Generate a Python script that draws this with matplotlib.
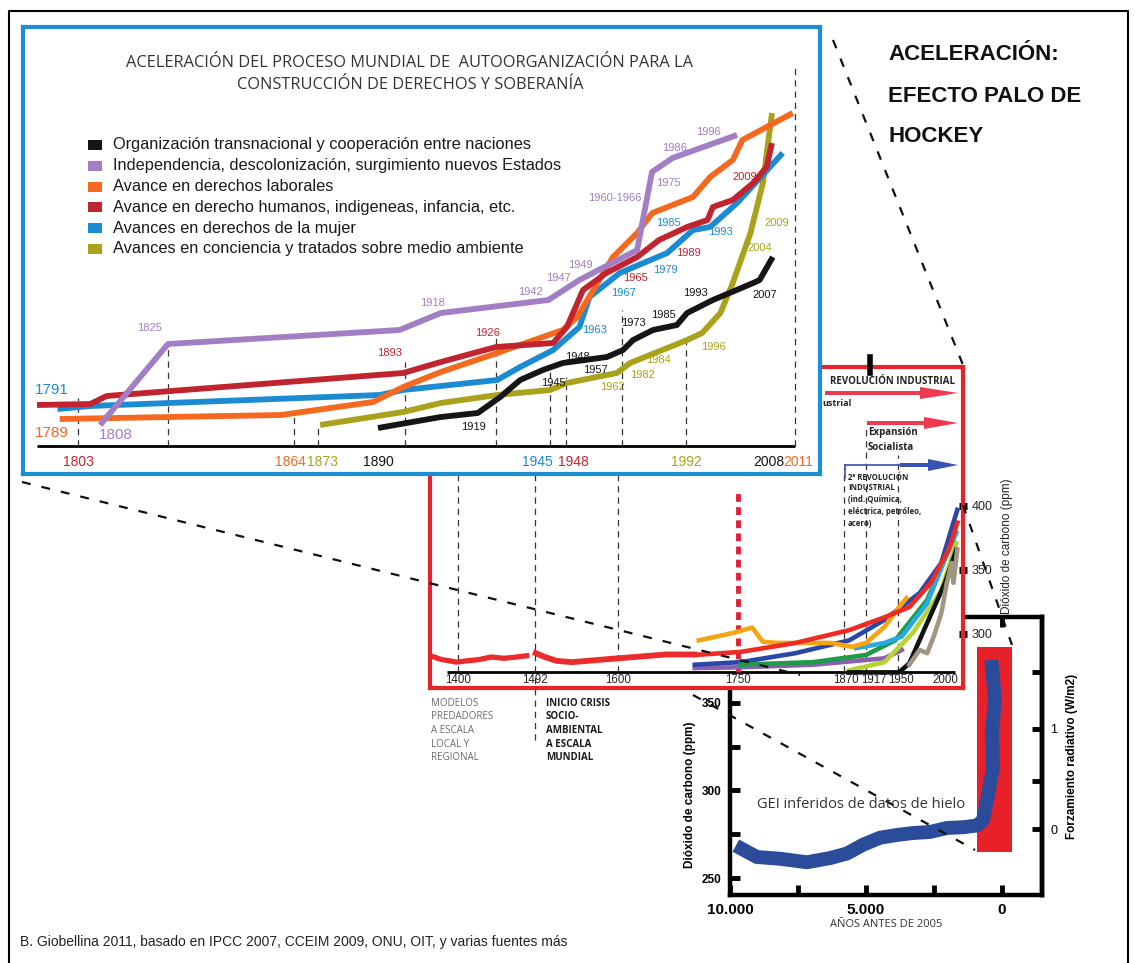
import numpy as np
import matplotlib
matplotlib.use("Agg")
import matplotlib.pyplot as plt
from matplotlib.patches import Rectangle, FancyArrow
from matplotlib.transforms import offset_copy

W, H = 1135, 963
NARROW = ["Liberation Sans Narrow", "Liberation Sans", "DejaVu Sans"]
ARIAL = ["Liberation Sans", "DejaVu Sans"]
MYRIAD = ["Open Sans", "DejaVu Sans"]

C_BLACK = "#151515"
C_PURPLE = "#a27fc4"
C_ORANGE = "#f4691f"
C_RED = "#c1242f"
C_BLUE = "#1b8bd3"
C_OLIVE = "#aaa21a"

# ---- top panel: proceso de autoorganizacion (year, relative level)
LEGEND_LABELS = [
    "Organización transnacional y cooperación entre naciones",
    "Independencia, descolonización, surgimiento nuevos Estados",
    "Avance en derechos laborales",
    "Avance en derecho humanos, indigeneas, infancia, etc.",
    "Avances en derechos de la mujer",
    "Avances en conciencia y tratados sobre medio ambiente",
]
LEGEND_COLORS = [C_BLACK, C_PURPLE, C_ORANGE, C_RED, C_BLUE, C_OLIVE]

ORG_YEARS = [1890, 1906, 1919.4, 1927.5, 1934.5, 1942.5, 1947.4, 1966.3, 1973.3,
             1976.3, 1982.2, 1989.3, 1992.2, 1997, 2004.5, 2005.7, 2008.1]
ORG_LEVEL = [18, 29, 33, 49, 66, 76, 83, 89, 96, 106, 116, 121, 133, 146, 163, 166, 189]

IND_YEARS = [1808.4, 1825, 1892.4, 1906, 1944.4, 1954, 1977.5, 1981.9, 1988, 2001.5]
IND_LEVEL = [21, 102, 116, 133, 146, 166, 196, 274, 288, 311]

LAB_YEARS = [1795, 1860, 1888.6, 1892.8, 1906, 1926.4, 1947.4, 1953, 1969, 1977.5,
             1982, 1993.3, 1996.5, 2000.7, 2002.5, 2010.7]
LAB_LEVEL = [27, 31, 44, 59, 74, 93, 116, 129, 189, 213, 233, 249, 269, 286, 306, 333]

HUM_YEARS = [1785, 1806, 1810, 1892.8, 1906, 1926, 1945.6, 1948.4, 1955.6, 1966,
             1977.5, 1984, 1992.2, 1996, 1997, 2000.7, 2004.5, 2007, 2008]
HUM_LEVEL = [41, 42, 50, 73, 84, 99, 103, 119, 156, 173, 189, 206, 219, 226, 239,
             246, 263, 279, 303]

MUJ_YEARS = [1794, 1806, 1890.2, 1892.8, 1906, 1926.4, 1934.5, 1945.6, 1954, 1958.5,
             1972, 1986.4, 1993.3, 1996.5, 2001.5, 2009.4]
MUJ_LEVEL = [37, 40, 51, 56, 60, 66, 79, 96, 119, 149, 173, 193, 216, 219, 243, 293]

AMB_YEARS = [1873.6, 1892.8, 1906, 1926.4, 1945, 1948.4, 1970.7, 1975.4, 1992.2,
             1995, 1998.4, 2000.7, 2004, 2006.3, 2008]
AMB_LEVEL = [21, 34, 43, 51, 56, 63, 73, 83, 106, 113, 133, 163, 213, 263, 333]

TICK1_YEARS = [1803, 1864, 1873, 1890, 1945, 1948, 1992, 2008, 2011]
TICK1_COLORS = [C_RED, C_ORANGE, C_OLIVE, C_BLACK, C_BLUE, C_RED, C_OLIVE, C_BLACK, C_ORANGE]
TICK1_NUDGE = [0, -4, 4, 0, -13, 7, 0, -3, 3]  # px, labels pushed apart like the original
DASH1_YEARS = [1803, 1825, 1864, 1873, 1893, 1926, 1945, 1948, 1973, 1992, 2011]
DASH1_TOPS = [48, 102, 32, 21, 84, 113, 79, 69, 136, 106, 381]

# hand drawn time axis of the top panel (year -> pixel)
SCALE1_YEARS = [1778, 1785, 1803, 1825, 1864, 1873, 1890, 1893, 1926, 1945, 1948,
                1973, 1992, 2008, 2011, 2016]
SCALE1_PX = [23, 37, 78, 168, 294, 318, 378, 405, 496, 550, 566, 622, 686, 772, 795, 820]

# year labels written next to the curves
CURVE_LABELS = [
    (C_PURPLE, [("1825", 150, 328), ("1918", 433, 303), ("1942", 530, 292), ("1947", 558, 278),
                ("1949", 580, 265), ("1960-1966", 615, 198), ("1975", 668, 183),
                ("1986", 675, 148), ("1996", 708, 132)]),
    (C_RED, [("1893", 390, 353), ("1926", 488, 333), ("1965", 635, 278), ("1989", 688, 253),
             ("2009", 745, 177)]),
    (C_BLUE, [("1963", 595, 330), ("1967", 623, 293), ("1979", 665, 270), ("1985", 668, 223),
              ("1993", 720, 232)]),
    (C_BLACK, [("1919", 473, 427), ("1945", 553, 383), ("1948", 577, 357), ("1957", 595, 370),
               ("1973", 633, 323), ("1985", 663, 315), ("1993", 695, 293), ("2007", 765, 295)]),
    (C_OLIVE, [("1962", 613, 387), ("1982", 643, 375), ("1984", 658, 360), ("1996", 713, 347),
               ("2004", 760, 248), ("2009", 777, 223)]),
]
BIG_LABELS = [("1791", 52, 390, C_BLUE), ("1789", 52, 433, C_ORANGE), ("1808", 116, 435, C_PURPLE)]

# ---- middle panel: CO2 (ppm) since 1400
PRE_A_YEARS = [1371, 1380, 1390, 1398, 1410, 1425, 1440, 1455, 1470, 1482]
PRE_A_PPM = [282, 280, 279, 278, 279, 280, 282, 281, 282, 283]
PRE_B_YEARS = [1493, 1505, 1520, 1540, 1560, 1580, 1600, 1620, 1640, 1660, 1680, 1696]
PRE_B_PPM = [285, 282, 279, 278, 279, 280, 281, 282, 283, 284, 284, 284]

CO2_SERIES = [
    # years, ppm, colour
    ([1696, 1753, 1835, 1936, 1954], [273.4, 274, 276, 281, 287.5], "#8b5fb0"),
    ([1696, 1753, 1815, 1881, 1936, 1973, 1996, 2013], [276, 278, 285, 295, 311, 332, 355.5, 397], "#2a47a8"),
    ([1753, 1835, 1917, 1947, 1981, 2007], [276, 278, 283.6, 295, 326.6, 371], "#1f9a48"),
    ([1881, 1936, 1966, 1996, 2012], [271.6, 278, 301, 334, 371], "#b5d334"),
    ([1896, 1936, 1954, 1981, 2004, 2012], [289, 293, 298, 324, 366, 379], "#28a9e0"),
    ([1701, 1745, 1766, 1778, 1794, 1855, 1887, 1917, 1936, 1951, 1959],
     [295, 301, 305, 294, 293, 293, 290, 293, 305.5, 321, 328], "#f5a412"),
    ([1881, 1951, 1962, 1981, 2000, 2012], [270, 270, 277, 308.6, 340, 366], "#111111"),
    ([1962, 1973, 1981, 1988, 1996, 2002, 2007, 2009, 2013], [276, 287.5, 285, 298, 316, 340, 355.5, 340, 366], "#a09682"),
    ([1696, 1753, 1815, 1881, 1936, 1962, 1985, 2004, 2013], [283.6, 286, 293, 303, 313, 321, 340, 366, 387], "#ee2a24"),
]

TICK2_YEARS = [1400, 1492, 1600, 1750, 1870, 1917, 1950, 2000]
TICK2_NUDGE = [0, 0, 0, 0, 2, 8, 3, 0]
DASH2_YEARS = [1400, 1492, 1600, 1870, 1917, 1950]
DASH2_TOPS = [424, 424, 424, 430, 462, 440]
SCALE2_YEARS = [1366, 1400, 1492, 1600, 1750, 1870, 1917, 1950, 2000, 2019]
SCALE2_PX = [430, 458, 535, 618, 738, 844, 866, 898, 945, 963]

# ---- bottom panel: ice core CO2 (years before 2005, ppm)
ICE_YEARS = [9560, 9010, 8160, 7170, 6320, 5700, 5110, 4490, 3860, 3270, 2650, 2020,
             1430, 920, 700, 550, 330, 370, 260, 370]
ICE_PPM = [266.6, 262, 261, 259, 261.4, 264, 269, 273, 274.6, 275.7, 276.3, 278.6,
           279, 280, 283, 294.6, 313, 333, 352, 370.6]


def px_box(x0, y0, x1, y1):
    return [x0 / W, 1 - y1 / H, (x1 - x0) / W, (y1 - y0) / H]


def piecewise(years, px):
    return (lambda v: np.interp(v, years, px), lambda p: np.interp(p, px, years))


fig = plt.figure(figsize=(W / 100, H / 100), dpi=100)
fig.patch.set_facecolor("white")

# ======== bottom panel (ice core) ========
ax3 = fig.add_axes(px_box(730, 617, 1042, 895), zorder=1)
ax3.set_xlim(10000, -1470)
ax3.set_ylim(240.3, 399.1)
ax3.add_patch(Rectangle((919, 265), -1287, 117, color="#e8202a", lw=0))
ax3.plot(ICE_YEARS, ICE_PPM, color="#2b4c9b", lw=10, solid_joinstyle="round")
for s in ax3.spines.values():
    s.set_linewidth(3.2)
ax3.set_xticks([10000, 7500, 5000, 2500, 0])
ax3.set_xticklabels(["10.000", "", "5.000", "", "0"], family=ARIAL, weight="bold", fontsize=11)
ax3.set_yticks([250, 275, 300, 325, 350])
ax3.set_yticklabels(["250", "", "300", "", "350"], family=ARIAL, weight="bold", fontsize=8.5)
ax3.tick_params(direction="in", length=7, width=3.5, top=True, right=False, pad=6)
ax3.set_xlabel("AÑOS ANTES DE 2005", family=MYRIAD, fontsize=8, color="#333333", labelpad=1)
ax3.set_ylabel("Dióxido de carbono (ppm)", family=ARIAL, weight="bold", fontsize=8.5)
ax3.yaxis.set_label_coords(-0.11, 0.36)
sec = ax3.secondary_yaxis("right", functions=(lambda c: 5.35 * np.log(c / 278.0),
                                              lambda f: 278.0 * np.exp(f / 5.35)))
sec.set_yticks([0, 0.5, 1, 1.5])
sec.set_yticklabels(["0", "", "1", ""], family=ARIAL, fontsize=9)
sec.tick_params(direction="in", length=7, width=3.5, pad=6)
sec.spines["right"].set_linewidth(3.2)
sec.set_ylabel("Forzamiento radiativo (W/m2)", family=ARIAL, weight="bold", fontsize=8.5, labelpad=6)

# ======== middle panel (CO2 since 1400) ========
ax2 = fig.add_axes(px_box(430, 367, 963, 688), zorder=2)
ax2.set_facecolor("white")
ax2.set_xscale("function", functions=piecewise(SCALE2_YEARS, SCALE2_PX))
ax2.set_xlim(SCALE2_YEARS[0], SCALE2_YEARS[-1])
ax2.set_ylim(257.8, 508.6)
for s in ax2.spines.values():
    s.set_color("#e52329")
    s.set_linewidth(3)
ax2.set_xticks([])
ax2.yaxis.tick_right()
ax2.set_yticks([300, 350, 400])
ax2.set_yticklabels(["300", "350", "400"], family=ARIAL, fontsize=9, color="#222222")
ax2.tick_params(axis="y", direction="inout", length=6, width=5, color="black", pad=3)
ax2.yaxis.set_label_position("right")
ax2.set_ylabel("Dióxido de carbono (ppm)", family=ARIAL, fontsize=8.5, color="#222222")
ax2.yaxis.set_label_coords(1.072, 0.443)

ax2.hlines(270, 1387, 2011, color="black", lw=2)
ax2.vlines(DASH2_YEARS, 270, DASH2_TOPS, colors="#333333", lw=0.9, linestyles=(0, (5, 4)))
ax2.vlines(1492, 217, 270, colors="#333333", lw=0.9, linestyles=(0, (5, 4)), clip_on=False)
ax2.vlines(1750, 270, 412, colors="#e0203a", lw=3.5, linestyles=(0, (1.6, 1.1)))
ax2.plot(PRE_A_YEARS, PRE_A_PPM, color="#ec2c2c", lw=3.8)
ax2.plot(PRE_B_YEARS, PRE_B_PPM, color="#ec2c2c", lw=4.2)
for yrs, vals, col in CO2_SERIES:
    ax2.plot(yrs, vals, color=col, lw=3.3, solid_joinstyle="round")
for yr, dx in zip(TICK2_YEARS, TICK2_NUDGE):
    tr = offset_copy(ax2.get_xaxis_transform(), fig=fig, x=dx, y=0, units="dots")
    ax2.text(yr, 0.026, str(yr), transform=tr, ha="center", va="center",
             family=ARIAL, fontsize=8.3, color="#222222")

# ======== top panel (autoorganizacion) ========
ax1 = fig.add_axes(px_box(23, 27, 820, 474), zorder=3)
ax1.set_facecolor("white")
ax1.set_xscale("function", functions=piecewise(SCALE1_YEARS, SCALE1_PX))
ax1.set_xlim(SCALE1_YEARS[0], SCALE1_YEARS[-1])
ax1.set_ylim(-28, 419)
ax1.set_xticks([])
ax1.set_yticks([])
for s in ax1.spines.values():
    s.set_color("#1d8ed1")
    s.set_linewidth(3)

ax1.hlines(0, HUM_YEARS[0], TICK1_YEARS[-1], color="black", lw=2)
ax1.vlines(DASH1_YEARS, 0, DASH1_TOPS, colors="#333333", lw=0.9, linestyles=(0, (5, 4)))
series1 = [(AMB_YEARS, AMB_LEVEL, C_OLIVE), (ORG_YEARS, ORG_LEVEL, C_BLACK),
           (MUJ_YEARS, MUJ_LEVEL, C_BLUE), (LAB_YEARS, LAB_LEVEL, C_ORANGE),
           (HUM_YEARS, HUM_LEVEL, C_RED), (IND_YEARS, IND_LEVEL, C_PURPLE)]
for yrs, lev, col in series1:
    ax1.plot(yrs, lev, color=col, lw=4.2, solid_joinstyle="round", solid_capstyle="butt")
for yr, col, dx in zip(TICK1_YEARS, TICK1_COLORS, TICK1_NUDGE):
    tr = offset_copy(ax1.transData, fig=fig, x=dx, y=0, units="dots")
    ax1.text(yr, -16, str(yr), transform=tr, ha="center", va="center",
             family=ARIAL, fontsize=10, color=col)

# ======== overlay in pixel coordinates ========
ov = fig.add_axes([0, 0, 1, 1], zorder=10)
ov.set_xlim(0, W)
ov.set_ylim(H, 0)
ov.axis("off")
ov.patch.set_alpha(0)

ov.plot([9, 9, 1128, 1128], [963, 11, 11, 963], color="black", lw=1.5)

ov.text(410, 63, "ACELERACIÓN DEL PROCESO MUNDIAL DE  AUTOORGANIZACIÓN PARA LA",
        ha="center", va="center", family=MYRIAD, fontsize=11.8, color="#333333")
ov.text(410, 85, "CONSTRUCCIÓN DE DERECHOS Y SOBERANÍA",
        ha="center", va="center", family=MYRIAD, fontsize=11.8, color="#333333")
for i, (lab, col) in enumerate(zip(LEGEND_LABELS, LEGEND_COLORS)):
    y = 145 + 20.8 * i
    ov.add_patch(Rectangle((88, y - 5), 14, 10, color=col, lw=0))
    ov.text(113, y, lab, va="center", family=ARIAL, fontsize=11.8, color="#1a1a1a")

for col, labs in CURVE_LABELS:
    for txt, x, y in labs:
        ov.text(x, y, txt, ha="center", va="center", family=ARIAL, fontsize=8, color=col)
for txt, x, y, col in BIG_LABELS:
    ov.text(x, y, txt, ha="center", va="center", family=ARIAL, fontsize=11, color=col)

for txt, y in [("ACELERACIÓN:", 54), ("EFECTO PALO DE", 96), ("HOCKEY", 136)]:
    ov.text(888, y, txt, va="center", family=ARIAL, weight="bold", fontsize=16, color="#111111")

# industrial revolution annotations
ov.text(830, 381, "REVOLUCIÓN INDUSTRIAL", va="center", family=MYRIAD, weight="bold",
        fontsize=7, color="#222222")
ov.add_patch(FancyArrow(825, 393, 133, 0, width=4, head_width=12, head_length=38,
                        length_includes_head=True, color="#ee3a4e", lw=0))
ov.text(822, 404, "ustrial", va="center", family=MYRIAD, weight="bold", fontsize=6.5, color="#222222")
ov.add_patch(FancyArrow(867, 423, 91, 0, width=4, head_width=12, head_length=34,
                        length_includes_head=True, color="#ee3a4e", lw=0))
ov.text(868, 433, "Expansión", va="center", family=MYRIAD, weight="bold", fontsize=7, color="#222222")
ov.text(868, 447, "Socialista", va="center", family=MYRIAD, weight="bold", fontsize=7, color="#222222")
ov.plot([845, 905], [465, 465], color="#3a52b4", lw=1.2)
ov.plot([845, 845], [465, 478], color="#3a52b4", lw=1.2)
ov.add_patch(FancyArrow(900, 465, 58, 0, width=4, head_width=12, head_length=30,
                        length_includes_head=True, color="#3a52b4", lw=0))
for txt, y in [("2ª REVOLUCIÓN", 477), ("INDUSTRIAL", 488), ("(ind. Química,", 500),
               ("eléctrica, petróleo,", 512), ("acero)", 524)]:
    ov.text(848, y, txt, va="center", family=MYRIAD, weight="bold", fontsize=5.6, color="#222222")
ov.plot([870, 870], [357, 373], color="black", lw=4)

for i, (a, b) in enumerate(zip(["MODELOS", "PREDADORES", "A ESCALA", "LOCAL Y", "REGIONAL"],
                               ["INICIO CRISIS", "SOCIO-", "AMBIENTAL", "A ESCALA", "MUNDIAL"])):
    y = 703 + 13.7 * i
    ov.text(431, y, a, va="center", family=MYRIAD, fontsize=7, color="#6b6b6b")
    ov.text(546, y, b, va="center", family=MYRIAD, weight="bold", fontsize=7, color="#1a1a1a")

ov.text(861, 805, "GEI inferidos de datos de hielo", ha="center", va="center",
        family=MYRIAD, fontsize=10.5, color="#333333")

# zoom connectors
dash = (0, (4, 5))
for (x0, y0), (x1, y1) in [((22, 482), (800, 675)), ((693, 695), (975, 850)),
                           ((833, 40), (963, 365)), ((963, 505), (1012, 645))]:
    ov.plot([x0, x1], [y0, y1], color="#111111", lw=1.6, linestyle=dash)

ov.text(20, 942, "B. Giobellina 2011, basado en IPCC 2007, CCEIM 2009, ONU, OIT, y varias fuentes más",
        va="center", family=ARIAL, fontsize=10, color="#222222")

fig.savefig("out.png", dpi=100)
